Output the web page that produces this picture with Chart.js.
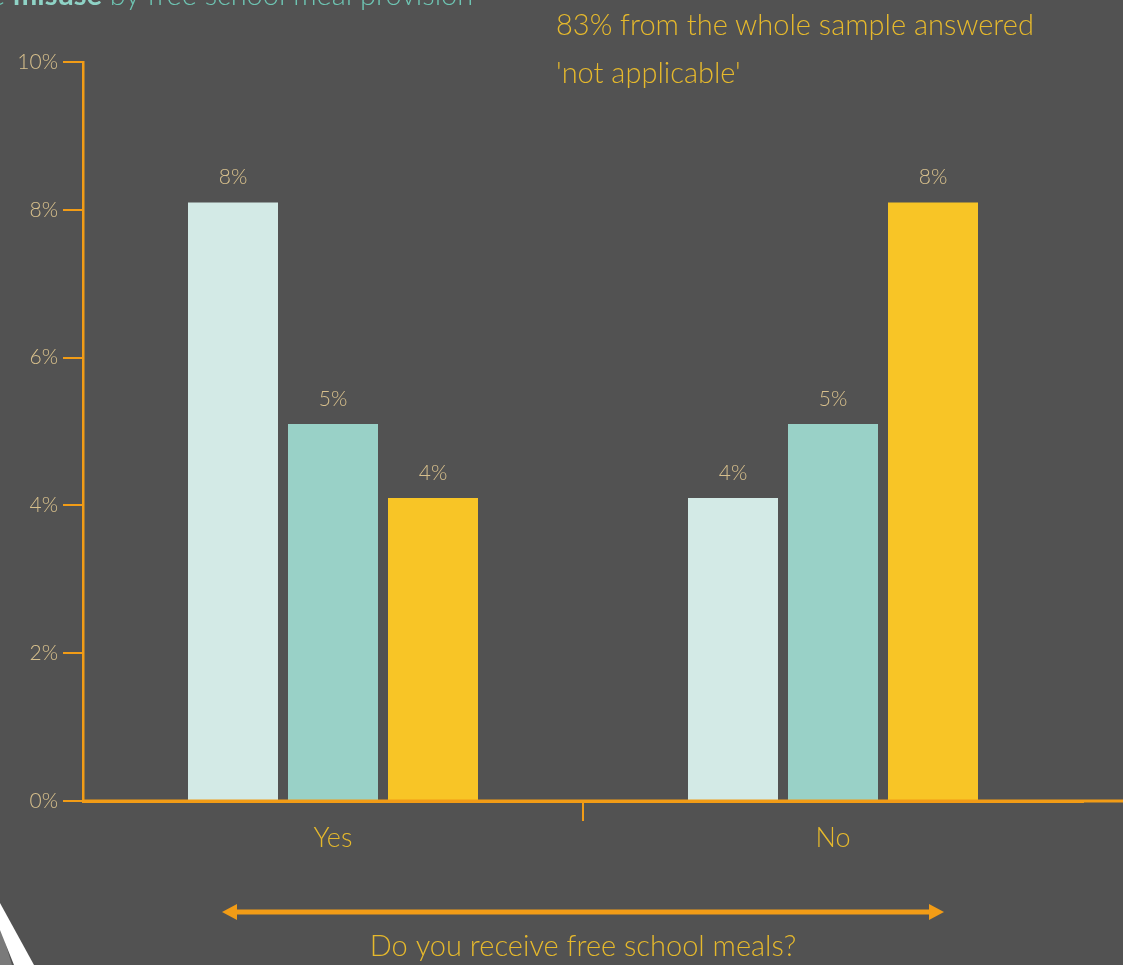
<!DOCTYPE html>
<html><head><meta charset="utf-8">
<script src="https://cdn.jsdelivr.net/npm/chart.js@4.4.1/dist/chart.umd.min.js"></script>
<style>
html,body{margin:0;padding:0;background:#525252;overflow:hidden;width:1123px;height:965px;font-family:Lato,"Open Sans",sans-serif;}
#wrap{position:absolute;left:0;top:0;width:1123px;height:965px;}
#title{position:absolute;left:-10px;top:-24px;font-size:29px;font-weight:300;color:#6ec5b3;white-space:nowrap;}
#title b{font-weight:700;color:#8fd3c6;}
#note{position:absolute;left:556px;top:0px;font-size:29px;font-weight:300;color:#e6b92c;line-height:48px;white-space:nowrap;}
#deco{position:absolute;left:0;top:0;}
</style></head>
<body>
<div id="wrap"><canvas id="c" width="1123" height="965"></canvas></div>
<div id="title">e <b>misuse</b> by free school meal provision</div>
<div id="note">83% from the whole sample answered<br>'not applicable'</div>
<svg id="deco" width="1123" height="965"><polygon points="0,925 12,965 0,965" fill="#7a7a7a"/><polygon points="0,903 34,965 14,965 0,930" fill="#ffffff"/></svg>
<script>
const categories = ["Yes", "No"];
const seriesA = [8.1, 4.1];
const seriesB = [5.1, 5.1];
const seriesC = [4.1, 8.1];
const yTicks = [0, 2, 4, 6, 8, 10];
const xTitle = "Do you receive free school meals?";

const ORANGE = "#f29c16";
const TAN = "#d8c08c";
const GOLD = "#e6b92c";

const labelPlugin = {
  id: "vals",
  afterDatasetsDraw(chart) {
    const ctx = chart.ctx;
    ctx.save();
    ctx.font = "300 21px Lato";
    ctx.fillStyle = TAN;
    ctx.textAlign = "center";
    ctx.textBaseline = "middle";
    chart.data.datasets.forEach((ds, i) => {
      chart.getDatasetMeta(i).data.forEach((el, j) => {
        ctx.fillText(Math.round(ds.data[j]) + "%", el.x, el.y - 25);
      });
    });
    ctx.restore();
  },
  afterDraw(chart) {
    const ctx = chart.ctx;
    const x = chart.scales.x, y = chart.scales.y;
    ctx.save();
    const y0 = y.getPixelForValue(0);
    ctx.strokeStyle = ORANGE;
    ctx.lineWidth = 3;
    ctx.beginPath();
    ctx.moveTo(chart.chartArea.left, y0);
    ctx.lineTo(chart.width, y0);
    ctx.stroke();
    const cx = (chart.chartArea.left + chart.chartArea.right) / 2;
    const ay = x.bottom - 53;
    const half = 361;
    ctx.lineWidth = 5;
    ctx.beginPath();
    ctx.moveTo(cx - half + 12, ay);
    ctx.lineTo(cx + half - 12, ay);
    ctx.stroke();
    ctx.fillStyle = ORANGE;
    ctx.beginPath();
    ctx.moveTo(cx - half, ay); ctx.lineTo(cx - half + 15, ay - 8); ctx.lineTo(cx - half + 15, ay + 8); ctx.closePath(); ctx.fill();
    ctx.beginPath();
    ctx.moveTo(cx + half, ay); ctx.lineTo(cx + half - 15, ay - 8); ctx.lineTo(cx + half - 15, ay + 8); ctx.closePath(); ctx.fill();
    ctx.restore();
  }
};

new Chart(document.getElementById("c"), {
  type: "bar",
  data: {
    labels: categories,
    datasets: [
      { data: seriesA, backgroundColor: "#d3eae6" },
      { data: seriesB, backgroundColor: "#99d1c7" },
      { data: seriesC, backgroundColor: "#f8c526" }
    ]
  },
  options: {
    responsive: false,
    animation: false,
    events: [],
    categoryPercentage: 0.6,
    barPercentage: 0.9,
    layout: { padding: { top: 62, right: 40, left: 0, bottom: 0 } },
    plugins: { legend: { display: false }, tooltip: { enabled: false } },
    scales: {
      y: {
        min: 0, max: 10,
        afterFit(s) { s.width = 83; },
        afterBuildTicks(s) { s.ticks = yTicks.map(v => ({ value: v })); },
        ticks: { color: TAN, font: { family: "Lato", size: 21, weight: "300" }, padding: 5, callback: v => v + "%" },
        grid: { drawOnChartArea: false, drawTicks: true, tickLength: 20, color: ORANGE, lineWidth: 2 },
        border: { display: true, color: ORANGE, width: 2.5 }
      },
      x: {
        afterFit(s) { s.height = 164; },
        ticks: { color: GOLD, font: { family: "Lato", size: 27, weight: "300" }, padding: 1 },
        grid: { offset: true, drawOnChartArea: false, drawTicks: true, tickLength: 20,
                color: ctx => ctx.index === 1 ? ORANGE : "rgba(0,0,0,0)", lineWidth: 2 },
        border: { display: true, color: ORANGE, width: 3 },
        title: { display: true, text: xTitle, color: GOLD, font: { family: "Lato", size: 29, weight: "300" }, padding: { top: 0, bottom: 1 } }
      }
    }
  },
  plugins: [labelPlugin]
});
</script>
</body></html>
